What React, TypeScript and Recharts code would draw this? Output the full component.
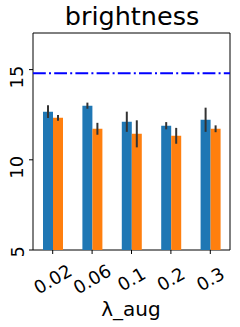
import React from 'react'
import { BarChart, Bar, XAxis, YAxis, ErrorBar, ReferenceLine, ReferenceArea } from 'recharts'

const categories = ['0.02', '0.06', '0.1', '0.2', '0.3']
const blueValues = [12.67, 13.0, 12.11, 11.89, 12.22]
const blueErrors = [0.35, 0.17, 0.56, 0.2, 0.67]
const orangeValues = [12.33, 11.72, 11.44, 11.33, 11.72]
const orangeErrors = [0.16, 0.33, 0.75, 0.44, 0.19]
const yTicks = [5, 10, 15]
const baseline = 14.8

const data = categories.map((c, i) => ({
  name: c,
  a: blueValues[i],
  aErr: blueErrors[i],
  b: orangeValues[i],
  bErr: orangeErrors[i],
}))

const FONT = '"DejaVu Sans", sans-serif'

const XTick = ({ x, y, payload }: any) => (
  <text
    x={x}
    y={y + 23}
    textAnchor="middle"
    dominantBaseline="central"
    fontSize={18}
    fontFamily={FONT}
    fill="#000"
    transform={`rotate(-30, ${x}, ${y + 23})`}
  >
    {payload.value}
  </text>
)

const YTick = ({ x, y, payload }: any) => (
  <text
    x={x - 3.5}
    y={y - 4}
    textAnchor="end"
    fontSize={18}
    fontFamily={FONT}
    fill="#000"
    transform={`rotate(-90, ${x - 3.5}, ${y - 4})`}
  >
    {payload.value}
  </text>
)

export default function App() {
  return (
    <div style={{ position: 'absolute', left: 0, top: 0, width: 240, height: 327, background: '#fff' }}>
      <svg width={240} height={40} style={{ position: 'absolute', left: 0, top: 0 }}>
        <text x={132} y={25} textAnchor="middle" fontSize={25.5} fontFamily={FONT} fill="#000">
          brightness
        </text>
      </svg>
      <BarChart
        width={240}
        height={327}
        data={data}
        margin={{ top: 33, right: 10, left: 0, bottom: 0 }}
        barGap={0}
        barSize={10}
        style={{ position: 'absolute', left: 0, top: 0 }}
      >
        <XAxis
          dataKey="name"
          height={77}
          tickSize={4}
          tickLine={{ stroke: '#000' }}
          axisLine={false}
          tick={<XTick />}
          interval={0}
        />
        <YAxis
          domain={[5, 17.03]}
          ticks={yTicks}
          width={33}
          tickSize={4}
          tickLine={{ stroke: '#000' }}
          axisLine={false}
          tick={<YTick />}
          allowDataOverflow
        />
        <Bar dataKey="a" fill="#1f77b4" isAnimationActive={false}>
          <ErrorBar dataKey="aErr" width={0} stroke="#333" strokeWidth={2} direction="y" />
        </Bar>
        <Bar dataKey="b" fill="#ff7f0e" isAnimationActive={false}>
          <ErrorBar dataKey="bErr" width={0} stroke="#333" strokeWidth={2} direction="y" />
        </Bar>
        <ReferenceLine
          y={baseline}
          stroke="#0000ff"
          strokeWidth={2}
          strokeDasharray="12.8 3.2 2 3.2"
        />
        <ReferenceArea y1={5} y2={17.03} fill="none" stroke="#000" strokeWidth={1} fillOpacity={0} />
      </BarChart>
      <svg width={240} height={30} style={{ position: 'absolute', left: 0, top: 297 }}>
        <text x={131} y={19} textAnchor="middle" fontSize={20} fontFamily={FONT} fill="#000">
          λ_aug
        </text>
      </svg>
    </div>
  )
}
